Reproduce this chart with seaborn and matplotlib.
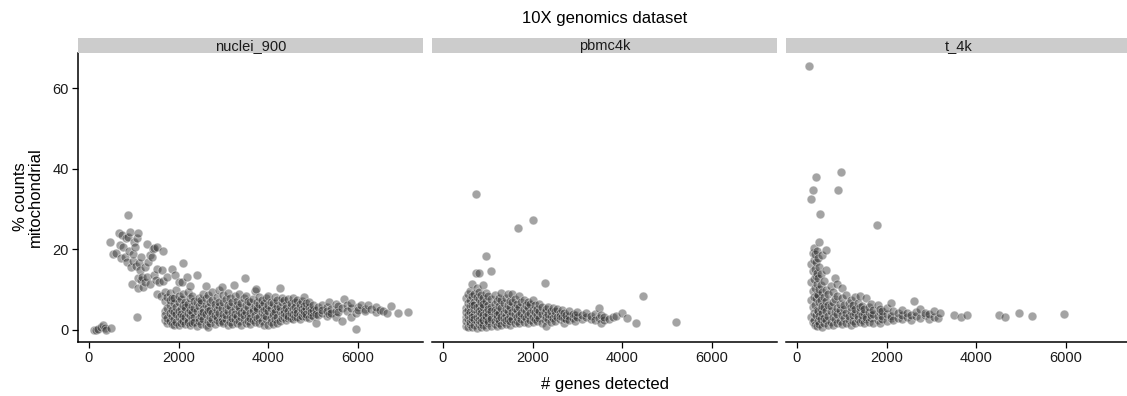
"""
Pourcentage de comptes mitochondriaux vs nombre de gènes détectés,
pour trois jeux de données 10X (nuclei_900, pbmc4k, t_4k).
"""

import pandas as pd
import seaborn as sns
import matplotlib.pyplot as plt

# === Données : (genes detectes, [% mito ...]) ===
nuclei_900 = [
    (120, [0.1]), (150, [0.0]), (200, [0.3]), (260, [0.6]), (320, [1.3]),
    (350, [0.4]), (380, [0.1]), (470, [21.7]), (480, [0.5]), (545, [18.9]),
    (600, [19.2]), (680, [24.0]), (700, [21.0]), (720, [17.8]), (730, [23.5]),
    (760, [20.5]), (800, [18.0]), (820, [22.8]), (850, [16.8]), (880, [28.6, 23.0]),
    (900, [19.5]), (917, [24.4]), (930, [15.5]), (955, [11.5]), (980, [17.2]),
    (990, [18.9]), (1010, [21.8]), (1030, [20.6]), (1050, [15.8]), (1070, [3.3]),
    (1080, [22.9]), (1090, [13.0]), (1100, [10.5]), (1104, [24.1]), (1120, [16.5]),
    (1140, [14.8]), (1150, [12.5]), (1170, [18.2]), (1190, [13.1]), (1215, [10.7]),
    (1240, [15.5]), (1260, [12.0]), (1290, [21.4, 13.2]), (1320, [16.8]),
    (1350, [11.5]), (1370, [18.5]), (1400, [18.1]), (1420, [20.0]), (1440, [20.2]),
    (1460, [13.5]), (1500, [12.5]), (1515, [20.6, 15.2, 9.0]), (1560, [11.8]),
    (1600, [8.5]), (1630, [14.8]), (1650, [19.6]), (1660, [12.2]),
    (1700, [9.5, 2.5, 4.8, 7.2, 3.6]), (1740, [13.2]), (1750, [1.8, 5.5, 8.1, 3.0]),
    (1800, [6.3, 2.2, 4.1, 9.2, 7.4]), (1850, [15.2, 3.5, 5.0, 1.5, 8.0]),
    (1900, [2.8, 6.6, 4.4, 7.9, 1.2]), (1925, [13.6]), (1950, [3.9, 5.8, 2.0, 9.8]),
    (2000, [1.1, 4.6, 6.9, 3.2, 8.5, 12.0]), (2050, [2.6, 5.3, 7.6, 1.7, 4.0]),
    (2080, [11.9]), (2100, [16.5, 3.4, 6.1, 8.8, 2.1]), (2150, [4.9, 1.4, 7.0, 3.1, 5.7]),
    (2190, [13.2]), (2200, [2.4, 6.5, 9.3, 4.2, 1.9]), (2250, [3.7, 5.0, 7.8, 1.3, 11.0]),
    (2300, [2.9, 6.0, 4.5, 8.3, 1.6]), (2350, [5.5, 3.2, 7.1, 2.0]),
    (2410, [13.5, 4.7, 1.0, 6.8]), (2450, [3.0, 5.9, 8.0, 2.3]),
    (2500, [4.1, 6.6, 1.5, 7.5, 3.5]), (2550, [2.6, 5.2, 9.0, 4.4]),
    (2600, [10.9, 1.2, 3.9, 6.3, 7.9]), (2650, [2.1, 5.6, 4.6, 8.6, 0.8]),
    (2700, [3.3, 6.9, 1.8, 5.0]), (2750, [4.2, 7.4, 2.7, 9.4]),
    (2800, [1.4, 5.8, 3.6, 6.5]), (2850, [2.5, 4.9, 8.1, 3.1]),
    (2900, [6.0, 1.9, 4.3, 9.9, 7.0]), (2970, [10.7, 3.0, 5.4, 2.2]),
    (3000, [6.8, 4.0, 1.6, 8.7]), (3050, [2.8, 5.1, 7.6, 3.7]),
    (3100, [4.6, 1.3, 6.3, 9.2]), (3150, [3.2, 5.9, 2.0, 7.9]),
    (3200, [4.4, 6.9, 1.5, 3.0]), (3230, [11.1]), (3250, [5.3, 2.6, 8.3, 4.0]),
    (3300, [1.8, 6.1, 3.5, 7.2]), (3350, [4.8, 2.3, 5.7, 9.0]),
    (3400, [3.1, 6.6, 1.2, 4.3]), (3450, [5.0, 2.7, 7.8, 3.8]), (3480, [12.9]),
    (3500, [1.6, 4.5, 6.2, 8.5]), (3550, [3.3, 5.6, 2.1, 7.1]),
    (3600, [4.1, 1.4, 6.8, 3.0]), (3650, [5.3, 2.5, 7.6, 4.7]),
    (3700, [3.6, 6.0, 1.9, 9.6]), (3730, [10.2]), (3750, [4.9, 2.9, 7.0, 5.5]),
    (3800, [3.2, 6.4, 1.6, 8.1]), (3850, [4.4, 2.2, 5.9, 7.3]),
    (3900, [3.7, 6.7, 1.3, 4.9]), (3950, [5.2, 2.8, 7.9, 3.4]),
    (4000, [1.1, 4.6, 6.2, 8.4]), (4050, [3.0, 5.5, 2.0, 7.0]),
    (4100, [4.2, 1.5, 6.6, 3.6]), (4150, [5.1, 2.6, 8.2, 4.5]),
    (4200, [3.3, 6.0, 1.8, 7.4]), (4250, [4.8, 2.3, 5.6, 10.3]),
    (4300, [3.9, 6.8, 2.9, 8.0]), (4350, [5.0, 3.2, 7.3, 4.3]),
    (4400, [2.4, 6.1, 3.7, 5.4]), (4450, [4.7, 2.9, 7.7, 3.5]),
    (4500, [5.9, 3.0, 6.6, 4.1]), (4550, [2.7, 5.2, 8.0, 3.9]),
    (4600, [4.5, 6.9, 3.3, 5.6]), (4650, [3.1, 5.0, 7.5, 4.2]),
    (4700, [5.8, 3.6, 6.4, 2.8]), (4750, [4.4, 7.1, 3.5, 5.3]),
    (4800, [3.9, 6.0, 4.8, 8.2]), (4850, [5.5, 3.2, 6.7, 4.0]),
    (4900, [4.6, 3.0, 5.8, 7.0]), (4950, [3.7, 5.2, 4.4]), (5000, [4.9, 3.4, 6.1]),
    (5070, [1.6, 5.0, 4.0]), (5100, [5.7, 3.6]), (5200, [4.3, 6.3, 5.0]),
    (5300, [3.5, 5.6, 4.6]), (5350, [6.8, 3.9]), (5400, [5.2, 4.1]),
    (5500, [4.8, 6.5, 3.3]), (5550, [5.9, 4.4]), (5650, [2.3, 5.4]), (5690, [7.7]),
    (5750, [6.2, 4.7]), (5850, [3.2, 5.5, 6.6]), (5950, [0.2, 4.2]),
    (6000, [5.7, 4.9]), (6065, [6.2]), (6150, [5.3, 4.6]), (6215, [6.3]),
    (6300, [5.1]), (6400, [4.5, 5.8]), (6500, [5.0]), (6550, [4.6]), (6650, [4.3]),
    (6740, [6.0]), (6890, [4.3]), (7120, [4.4]),
]

pbmc4k = [
    (520, [1.0, 3.2, 5.5, 7.8, 2.1, 4.4]), (560, [0.6, 2.6, 4.9, 6.7, 8.9, 3.7]),
    (600, [1.4, 3.0, 5.9, 7.3, 9.6, 2.0, 4.5]), (650, [0.7, 2.4, 4.0, 6.2, 8.4, 11.4, 3.3]),
    (700, [1.2, 3.8, 5.2, 7.0, 9.0, 2.7, 6.3]), (735, [33.6, 14.0]),
    (750, [0.5, 2.2, 4.6, 8.1, 10.3, 5.7, 3.1]), (800, [1.5, 3.5, 6.0, 7.6, 9.4, 2.5, 4.8, 14.2]),
    (850, [0.8, 2.9, 5.3, 6.9, 8.7, 4.1, 1.9]), (900, [1.1, 3.7, 5.8, 7.9, 11.2, 2.4, 6.5]),
    (950, [18.3, 0.6, 2.8, 4.5, 7.1, 9.2, 3.4]), (1000, [1.7, 4.0, 6.1, 8.3, 2.1, 5.2]),
    (1075, [14.5, 1.0, 3.1, 5.6, 7.7, 2.6, 4.7]), (1150, [1.4, 3.9, 6.4, 8.6, 2.2, 5.0]),
    (1200, [0.9, 2.9, 4.8, 7.2, 3.6]), (1250, [1.6, 4.3, 6.0, 8.0, 2.5]),
    (1300, [1.2, 3.3, 5.4, 7.5, 9.1]), (1350, [2.0, 4.1, 6.6, 3.0]),
    (1400, [1.5, 3.7, 5.2, 7.8, 2.4]), (1450, [2.8, 4.6, 6.3, 8.9]),
    (1500, [1.3, 3.4, 5.8, 7.2, 2.2]), (1550, [2.6, 4.4, 6.8, 9.0]),
    (1600, [1.8, 3.9, 5.5, 7.6]), (1650, [2.3, 4.9, 6.4, 3.1]), (1670, [25.4]),
    (1700, [1.6, 3.6, 5.7, 8.5]), (1750, [2.7, 4.3, 6.9]), (1800, [2.0, 3.5, 5.1, 7.4]),
    (1850, [2.9, 4.7, 6.2]), (1900, [1.7, 3.8, 5.6, 7.0]), (1950, [2.5, 4.2, 6.4]),
    (2000, [27.3, 1.9, 3.3, 5.0, 7.5]), (2050, [2.7, 4.5, 6.1]), (2100, [2.1, 3.6, 5.3]),
    (2150, [3.0, 4.8, 6.5]), (2200, [1.6, 3.9, 5.6]), (2265, [11.6, 2.4, 4.4]),
    (2300, [3.2, 5.1, 0.9]), (2350, [2.6, 4.0, 5.8]), (2400, [3.5, 2.0, 4.7]),
    (2450, [2.9, 5.4]), (2500, [3.8, 2.3, 4.6]), (2550, [3.1, 5.2]),
    (2600, [2.6, 4.1, 3.5]), (2650, [3.3, 4.9]), (2700, [1.6, 3.0, 4.3]),
    (2750, [2.7, 3.8]), (2800, [3.4, 4.6, 2.4]), (2900, [2.9, 4.0]), (2950, [3.6, 2.3]),
    (3000, [3.1, 4.4]), (3100, [2.6, 3.7]), (3200, [3.2, 4.2]), (3300, [2.8, 3.5]),
    (3400, [3.9, 2.5]), (3470, [5.4, 3.0]), (3520, [1.8, 3.6]), (3600, [2.4, 3.3]),
    (3700, [2.7]), (3800, [3.2]), (3850, [3.4]), (4000, [4.1]), (4095, [2.9]),
    (4300, [1.65]), (4470, [8.3]), (5200, [2.0]),
]

t_4k = [
    (269, [65.4]), (320, [3.2, 7.4, 11.8, 16.3]), (321, [32.5]), (366, [34.8]),
    (350, [1.9, 5.6, 9.7, 14.5, 19.0]), (380, [2.5, 4.3, 8.1, 12.6, 17.4, 20.2]),
    (400, [1.2, 6.2, 10.4, 15.1, 18.8]), (418, [37.9]), (420, [3.6, 7.8, 13.3, 16.9]),
    (440, [1.0, 5.0, 9.0, 11.5, 14.2, 19.6]), (470, [2.2, 4.7, 8.6, 12.9, 17.8]),
    (500, [1.5, 3.4, 6.8, 10.2, 15.6, 21.7]), (507, [28.7]),
    (530, [2.6, 5.3, 7.5, 11.2, 13.8]), (560, [0.8, 4.1, 6.0, 9.3, 18.6]),
    (600, [1.8, 3.0, 5.6, 8.2, 12.1]), (650, [2.4, 4.6, 7.1, 10.0, 14.9, 19.8]),
    (700, [1.3, 3.5, 6.3, 8.8]), (750, [2.0, 4.8, 5.9, 11.0]), (800, [1.1, 3.2, 6.9, 9.5]),
    (850, [2.7, 4.4, 7.6, 13.0]), (900, [1.6, 3.9, 5.5, 8.3, 11.3]), (910, [34.8]),
    (950, [2.3, 4.9, 6.5]), (985, [39.1]), (1000, [1.4, 3.6, 7.9, 10.3]),
    (1050, [2.9, 5.2, 6.1]), (1100, [1.7, 4.1, 8.6]), (1150, [2.5, 3.4, 6.7]),
    (1200, [1.2, 4.6, 5.8, 7.4]), (1250, [2.1, 3.8, 6.2]), (1300, [1.6, 4.3, 5.1, 8.1]),
    (1350, [2.8, 3.5, 6.6]), (1400, [1.9, 4.7, 5.7, 8.3]), (1450, [2.4, 3.6, 6.0]),
    (1500, [1.8, 4.2, 5.3]), (1550, [2.6, 3.3, 7.9]), (1600, [2.0, 4.5, 5.6]),
    (1650, [2.9, 3.8, 6.4]), (1700, [1.7, 4.0, 5.0]), (1783, [26.1]),
    (1800, [2.5, 3.4, 6.1]), (1850, [1.6, 4.4, 5.2]), (1900, [2.8, 3.5, 4.8]),
    (2000, [2.2, 4.0, 5.5]), (2100, [2.9, 3.4, 6.7]), (2150, [2.4, 4.6]),
    (2250, [3.0, 4.1]), (2350, [2.6, 3.7, 5.0]), (2450, [3.2, 4.3]), (2550, [2.5, 3.8]),
    (2618, [7.1]), (2650, [3.4, 4.5]), (2750, [2.9, 5.2]), (2850, [3.6, 4.2]),
    (2950, [2.8, 3.9]), (3050, [3.3, 4.6]), (3150, [3.0]), (3200, [4.1]),
    (3500, [3.8]), (3650, [3.2]), (3800, [3.8]), (4500, [3.8]), (4650, [3.2]),
    (4950, [4.2]), (5250, [3.5]), (5960, [4.0]),
]

datasets = ["nuclei_900", "pbmc4k", "t_4k"]

# === Mise en forme longue ===
lignes = []
for nom, points in zip(datasets, [nuclei_900, pbmc4k, t_4k]):
    for genes, pcts in points:
        for pct in pcts:
            lignes.append({"dataset": nom, "genes": genes, "pct_mito": pct})
df = pd.DataFrame(lignes)

sns.set_theme(style="ticks")
plt.rcParams["font.family"] = ["Liberation Sans", "DejaVu Sans"]

W, H = 1127, 396
fig = plt.figure(figsize=(W / 100, H / 100), dpi=100)

gauches = [78, 432, 786]
larg = 345
haut_ax, bas_ax = 53, 342

for i, (nom, x0) in enumerate(zip(datasets, gauches)):
    ax = fig.add_axes([x0 / W, 1 - bas_ax / H, larg / W, (bas_ax - haut_ax) / H])
    sns.scatterplot(data=df[df["dataset"] == nom], x="genes", y="pct_mito", ax=ax,
                    color="#333333", alpha=0.45, s=40, edgecolor="white", linewidth=0.6)
    ax.set_xlim(-245, 7450)
    ax.set_ylim(-3.0, 68.7)
    ax.set_xticks([0, 2000, 4000, 6000])
    ax.set_yticks([0, 20, 40, 60])
    ax.set_xlabel("")
    ax.set_ylabel("")
    for cote in ["top", "right"]:
        ax.spines[cote].set_visible(False)
    for cote in ["bottom", "left"]:
        ax.spines[cote].set_linewidth(1.1)
        ax.spines[cote].set_color("black")
    ax.tick_params(axis="both", labelsize=10.5, length=4, width=0.9, color="black",
                   labelcolor="#1a1a1a", pad=2.5)
    if i > 0:
        ax.spines["left"].set_visible(False)
        ax.tick_params(axis="y", left=False, labelleft=False)

    # bandeau gris du facet
    bandeau = fig.add_axes([x0 / W, 1 - haut_ax / H, larg / W, 15 / H])
    bandeau.set_facecolor("#cccccc")
    bandeau.set_xticks([])
    bandeau.set_yticks([])
    for sp in bandeau.spines.values():
        sp.set_visible(False)
    bandeau.text(0.5, 0.45, nom, ha="center", va="center", fontsize=10.5,
                 color="#1a1a1a", transform=bandeau.transAxes)

fig.text(605 / W, 1 - 19 / H, "10X genomics dataset", ha="center", va="center",
         fontsize=12, color="black")
fig.text(605 / W, 1 - 384 / H, "# genes detected", ha="center", va="center",
         fontsize=12, color="black")
fig.text(28 / W, 1 - 197 / H, "% counts\nmitochondrial", ha="center", va="center",
         rotation=90, fontsize=12, color="black", linespacing=1.0)

fig.savefig("out.png", dpi=100)
